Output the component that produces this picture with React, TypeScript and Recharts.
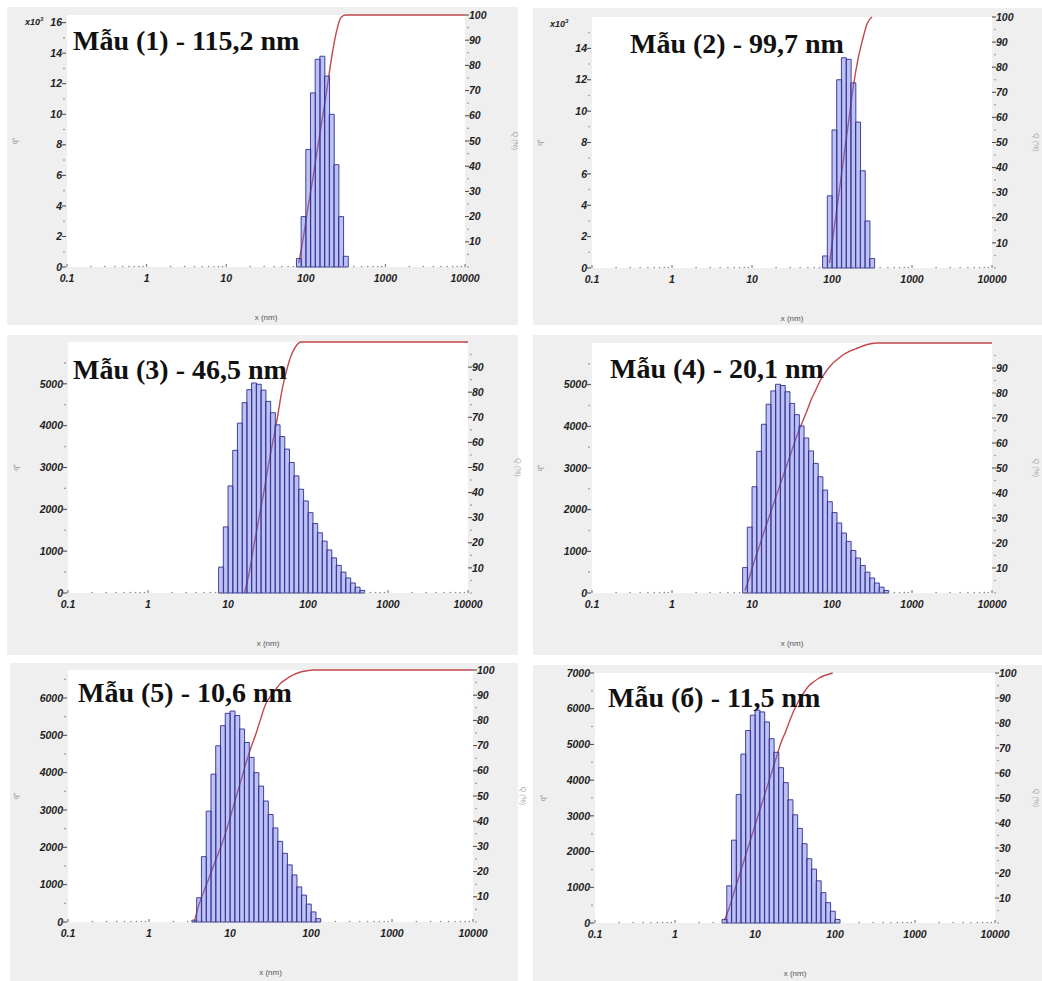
import React from "react";
import { ComposedChart, Bar, Line, XAxis, YAxis } from "recharts";

// size class centres (nm), 17 classes per decade
const binX = [
  3.62, 4.147, 4.748, 5.437, 6.226, 7.128, 8.162, 9.345, 10.7, 12.25,
  14.03, 16.07, 18.4, 21.07, 24.12, 27.62, 31.63, 36.2, 41.47, 47.48,
  54.37, 62.26, 71.28, 81.62, 93.45, 107.0, 122.5, 140.3, 160.7, 184.0,
  210.7, 241.2, 276.2, 316.3, 362.0, 414.7, 474.8, 543.7, 622.6,
];

const xMajor = [0.1, 1, 10, 100, 1000, 10000];
const xMinorSteps = [2, 3, 4, 5, 6, 7, 8, 9];

const titles = [
  "Mẫu (1) - 115,2 nm",
  "Mẫu (2) - 99,7 nm",
  "Mẫu (3) - 46,5 nm",
  "Mẫu (4) - 20,1 nm",
  "Mẫu (5) - 10,6 nm",
  "Mẫu (б) - 11,5 nm",
];

// q* per class, first value sits at binX[countFrom]
const counts1 = [550, 3300, 7700, 11400, 13600, 13800, 12500, 10000, 6700, 3300, 700];
const counts2 = [770, 4600, 8800, 12000, 13400, 13300, 11800, 9300, 6200, 3000, 600];
const counts3 = [
  620, 1580, 2560, 3410, 4060, 4550, 4860, 5020, 4990, 4850, 4580, 4310, 4020, 3740, 3440, 3120,
  2800, 2480, 2200, 1920, 1660, 1440, 1240, 1030, 840, 660, 500, 360, 240, 140, 60,
];
const counts4 = [
  610, 1580, 2550, 3400, 4050, 4530, 4850, 5010, 4980, 4830, 4550, 4280, 4010, 3720, 3410, 3110,
  2790, 2470, 2190, 1930, 1680, 1440, 1240, 1020, 840, 660, 500, 360, 240, 140, 60,
];
const counts5 = [
  50, 650, 1750, 2970, 3960, 4720, 5260, 5590, 5650, 5530, 5170, 4810, 4410, 4000, 3640, 3240,
  2880, 2520, 2160, 1840, 1530, 1260, 940, 720, 480, 270, 90,
];
const counts6 = [
  100, 1040, 2320, 3600, 4730, 5390, 5820, 5960, 5910, 5630, 5160, 4780, 4350, 3930, 3450, 3030,
  2650, 2220, 1800, 1510, 1180, 850, 570, 330, 100,
];

// cumulative Q (%), first value sits at binX[cumulFrom]
const cumul1 = [1.5, 12, 24, 35, 47, 58.5, 70.5, 83, 93, 99, 100];
const cumul2 = [2, 16.5, 30, 44, 58, 72, 83, 91, 97.5, 100];
const cumul3 = [0, 8, 19, 29, 39, 50, 60, 70, 81, 89, 95, 98.5, 100];
const cumul4 = [
  1, 6.5, 12.8, 18.3, 24.2, 29.7, 35.2, 40.7, 46.2, 51.7, 57.2, 62.7, 67.5, 72, 77, 81, 85, 88,
  90.5, 92.5, 94, 95.5, 96.5, 97.3, 98, 98.8, 99.4, 99.8, 100,
];
const cumul5 = [
  0, 7, 12, 17, 22, 27, 32, 38, 44.5, 51, 57.4, 64, 69.8, 75, 81, 86.5, 89.5, 92, 94.5, 96, 97.3,
  98.3, 99, 99.5, 99.8, 100,
];
const cumul6 = [
  1, 6, 12, 18, 24, 30, 36, 42, 48, 54, 60, 66, 72, 76.5, 81.5, 86, 89.5, 92.5, 95, 96.5, 97.8,
  98.8, 99.4, 100,
];

const yTicks1 = [0, 2000, 4000, 6000, 8000, 10000, 12000, 14000, 16000];
const yTicks2 = [0, 2000, 4000, 6000, 8000, 10000, 12000, 14000];
const yTicks3 = [0, 1000, 2000, 3000, 4000, 5000];
const yTicks5 = [0, 1000, 2000, 3000, 4000, 5000, 6000];
const yTicks6 = [0, 1000, 2000, 3000, 4000, 5000, 6000, 7000];
const qTicksFull = [10, 20, 30, 40, 50, 60, 70, 80, 90, 100];
const qTicksShort = [10, 20, 30, 40, 50, 60, 70, 80, 90];

const samples = [
  { counts: counts1, countFrom: 23, cumul: cumul1, cumulFrom: 23, flat: true, yMax: 16500, yTicks: yTicks1, yDiv: 1000, qTicks: qTicksFull },
  { counts: counts2, countFrom: 23, cumul: cumul2, cumulFrom: 24, flat: false, yMax: 16000, yTicks: yTicks2, yDiv: 1000, qTicks: qTicksFull },
  { counts: counts3, countFrom: 6, cumul: cumul3, cumulFrom: 11, flat: true, yMax: 6000, yTicks: yTicks3, yDiv: 1, qTicks: qTicksShort },
  { counts: counts4, countFrom: 6, cumul: cumul4, cumulFrom: 6, flat: true, yMax: 6000, yTicks: yTicks3, yDiv: 1, qTicks: qTicksShort },
  { counts: counts5, countFrom: 0, cumul: cumul5, cumulFrom: 0, flat: true, yMax: 6750, yTicks: yTicks5, yDiv: 1, qTicks: qTicksFull },
  { counts: counts6, countFrom: 1, cumul: cumul6, cumulFrom: 1, flat: false, yMax: 7000, yTicks: yTicks6, yDiv: 1, qTicks: qTicksFull },
];

// grey frame [x, y, w, h] and white plot area [x0, y0, x1, y1], page pixels
const frames = [
  { box: [7, 7, 511, 318], plot: [67, 15, 465, 267], title: [73, 50] },
  { box: [533, 8, 509, 317], plot: [592, 17, 992, 268], title: [630, 53] },
  { box: [7, 335, 511, 320], plot: [68, 342, 468, 593], title: [73, 379] },
  { box: [533, 335, 509, 320], plot: [592, 343, 992, 593], title: [610, 378] },
  { box: [10, 663, 508, 318], plot: [68, 670, 473, 922], title: [78, 702] },
  { box: [533, 665, 509, 316], plot: [595, 673, 995, 923], title: [608, 707] },
];

const tickFont = {
  fontFamily: '"Liberation Sans", Arial, sans-serif',
  fontSize: 10.5,
  fontWeight: 700,
  fontStyle: "italic" as const,
};
const ink = "#222";

const xTicks = [...xMajor, ...xMajor.slice(0, -1).flatMap((m) => xMinorSteps.map((k) => m * k))];
const isMajorX = (v: number) => xMajor.some((m) => Math.abs(m - v) < m * 1e-6);

function withMinors(majors: number[], max: number) {
  const step = majors[1] - majors[0];
  const minors: number[] = [];
  for (let v = majors[0] - step / 2; v < max; v += step) if (v >= 0) minors.push(v);
  return [...majors, ...minors];
}

function XTick(p: any) {
  const v = p.payload.value;
  if (!isMajorX(v)) return <circle cx={p.x} cy={p.y - 0.5} r={0.8} fill="#888" />;
  return (
    <g>
      <line x1={p.x} x2={p.x} y1={p.y - 3} y2={p.y} stroke="#666" />
      <text x={p.x} y={p.y + 15} textAnchor="middle" fill={ink} style={tickFont}>
        {String(v)}
      </text>
    </g>
  );
}

const leftTick = (majors: number[], div: number) => (p: any) => {
  const v = p.payload.value;
  if (!majors.includes(v)) return <circle cx={p.x - 3} cy={p.y} r={0.8} fill="#888" />;
  return (
    <g>
      <line x1={p.x - 5} x2={p.x - 1} y1={p.y} y2={p.y} stroke="#444" />
      <text x={p.x - 5} y={p.y} dy="0.35em" textAnchor="end" fill={ink} style={tickFont}>
        {v / div}
      </text>
    </g>
  );
};

const rightTick = (majors: number[]) => (p: any) => {
  const v = p.payload.value;
  if (!majors.includes(v)) return <circle cx={p.x + 3} cy={p.y} r={0.8} fill="#888" />;
  return (
    <g>
      <line x1={p.x} x2={p.x + 4} y1={p.y} y2={p.y} stroke="#444" />
      <text x={p.x + 4} y={p.y} dy="0.35em" textAnchor="start" fill={ink} style={tickFont}>
        {v}
      </text>
    </g>
  );
};

function buildRows(s: (typeof samples)[number]) {
  const rows: { x: number; v: number | null; q: number | null }[] = binX
    .map((x, i) => ({ x, v: s.counts[i - s.countFrom] ?? null, q: s.cumul[i - s.cumulFrom] ?? null }))
    .filter((r) => r.v != null || r.q != null);
  if (s.flat) rows.push({ x: xMajor[xMajor.length - 1], v: null, q: s.cumul[s.cumul.length - 1] });
  return rows;
}

function Panel({ idx }: { idx: number }) {
  const s = samples[idx];
  const f = frames[idx];
  const [bx, by, w, h] = f.box;
  const l = f.plot[0] - bx;
  const t = f.plot[1] - by;
  const r = f.plot[2] - bx;
  const b = f.plot[3] - by;
  const rows = buildRows(s);
  return (
    <div style={{ position: "absolute", left: bx, top: by, width: w, height: h, background: "#efefef" }}>
      <div style={{ position: "absolute", left: l, top: t, width: r - l, height: b - t, background: "#fff" }} />
      <div style={{ position: "absolute", left: 0, top: 0 }}>
        <ComposedChart
          width={w}
          height={h}
          data={rows}
          margin={{ top: t, right: 0, bottom: 0, left: 0 }}
          barCategoryGap={0}
          barGap={0}
        >
          <XAxis
            dataKey="x"
            type="number"
            scale="log"
            domain={[0.1, 10000]}
            ticks={xTicks}
            interval={0}
            height={h - b}
            tick={XTick}
            tickLine={false}
            axisLine={false}
            tickSize={0}
            tickMargin={0}
          />
          <YAxis
            yAxisId="n"
            domain={[0, s.yMax]}
            ticks={withMinors(s.yTicks, s.yMax)}
            interval={0}
            width={l}
            tick={leftTick(s.yTicks, s.yDiv)}
            tickLine={false}
            axisLine={false}
            tickSize={0}
            tickMargin={0}
          />
          <YAxis
            yAxisId="q"
            orientation="right"
            domain={[0, 100]}
            ticks={[0, ...withMinors(s.qTicks, 100).filter((v) => v > 0)]}
            interval={0}
            width={w - r}
            tick={rightTick(s.qTicks)}
            tickLine={false}
            axisLine={false}
            tickSize={0}
            tickMargin={0}
          />
          <Line
            yAxisId="q"
            dataKey="q"
            type="monotone"
            stroke="#c0474d"
            strokeWidth={1.4}
            dot={false}
            activeDot={false}
            connectNulls
            zIndex={250}
            isAnimationActive={false}
          />
          <Bar
            yAxisId="n"
            dataKey="v"
            fill="#6c75e6"
            fillOpacity={0.45}
            stroke="#2e318f"
            strokeWidth={0.9}
            isAnimationActive={false}
          />
        </ComposedChart>
      </div>
    </div>
  );
}

const serif = '"Liberation Serif", "Times New Roman", serif';
const sans = '"Liberation Sans", Arial, sans-serif';

export default function App() {
  return (
    <div style={{ position: "absolute", left: 0, top: 0, width: 1042, height: 981, background: "#fff", overflow: "hidden" }}>
      {samples.map((_, i) => (
        <Panel key={i} idx={i} />
      ))}
      <svg width={1042} height={981} style={{ position: "absolute", left: 0, top: 0, pointerEvents: "none" }}>
        {frames.map((f, i) => {
          const [x0, y0, x1, y1] = f.plot;
          const mx = (x0 + x1) / 2;
          const my = (y0 + y1) / 2;
          const qx = Math.min(x1 + 48, 1034);
          return (
            <g key={i}>
              <text x={f.title[0]} y={f.title[1]} fill="#111" style={{ fontFamily: serif, fontSize: 28, fontWeight: 700 }}>
                {titles[i]}
              </text>
              <text x={mx} y={y1 + 53} textAnchor="middle" fill="#555" style={{ fontFamily: sans, fontSize: 8 }}>
                x (nm)
              </text>
              <text
                x={x0 - 50}
                y={my}
                textAnchor="middle"
                transform={`rotate(-90 ${x0 - 50} ${my})`}
                fill="#999"
                style={{ fontFamily: sans, fontSize: 7 }}
              >
                q*
              </text>
              <text
                x={qx}
                y={my}
                textAnchor="middle"
                transform={`rotate(90 ${qx} ${my})`}
                fill="#aaa"
                style={{ fontFamily: sans, fontSize: 7 }}
              >
                Q (%)
              </text>
              {samples[i].yDiv > 1 && (
                <text x={x0 - 42} y={y0 + 10} fill={ink} style={{ ...tickFont, fontSize: 9 }}>
                  x10
                  <tspan dy={-4} fontSize={6}>
                    3
                  </tspan>
                </text>
              )}
            </g>
          );
        })}
      </svg>
    </div>
  );
}
